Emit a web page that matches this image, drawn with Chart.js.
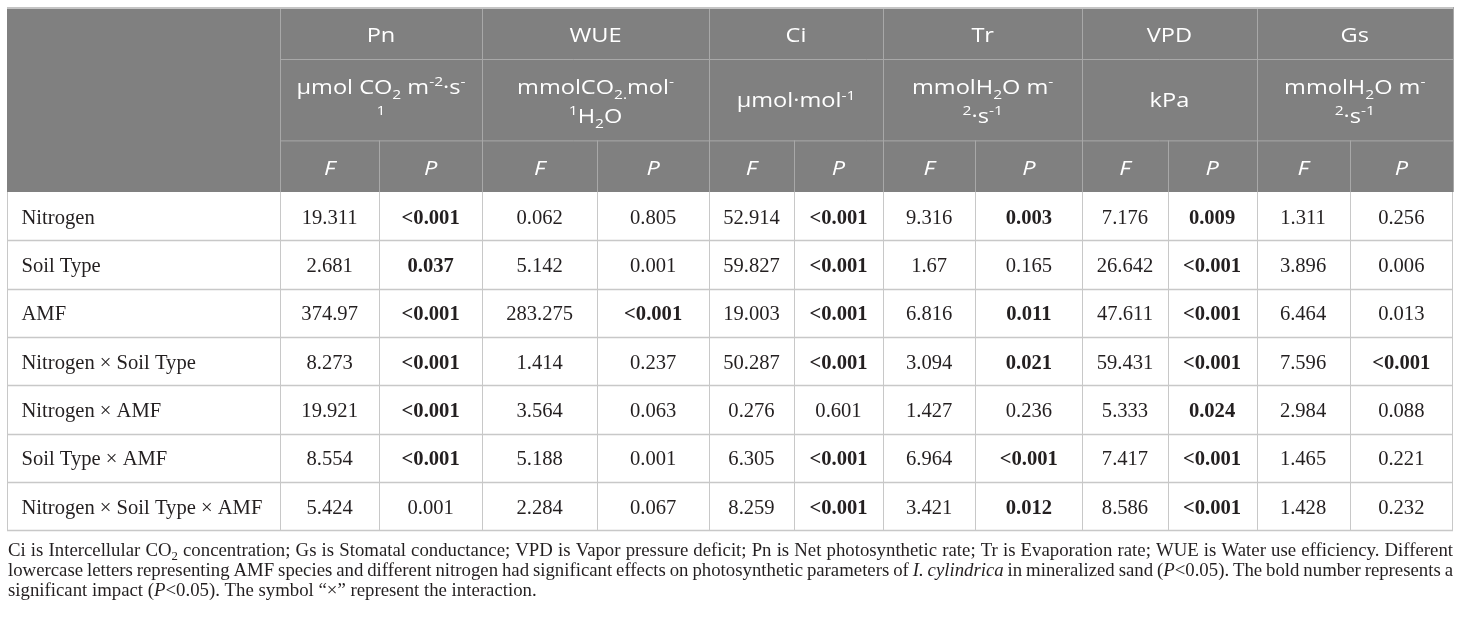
<!DOCTYPE html>
<html>
<head>
<meta charset="utf-8">
<script src="https://cdn.jsdelivr.net/npm/chart.js@4.4.1/dist/chart.umd.min.js"></script>
<style>
  html, body { margin: 0; padding: 0; background: #fff; }
  #wrap { position: relative; width: 1460px; height: 618px; }
</style>
</head>
<body>
<div id="wrap"><canvas id="tbl"></canvas></div>
<script>
// ---- data ----
const rowLabels = ["Nitrogen", "Soil Type", "AMF", "Nitrogen × Soil Type", "Nitrogen × AMF", "Soil Type × AMF", "Nitrogen × Soil Type × AMF"];
const variables = ["Pn", "WUE", "Ci", "Tr", "VPD", "Gs"];
// ^{..} superscript, _{..} subscript; one entry per line
const units = [
  ["μmol CO_{2} m^{-2}·s^{-}", "^{1}"],
  ["mmolCO_{2.}mol^{-}", "^{1}H_{2}O"],
  ["μmol·mol^{-1}"],
  ["mmolH_{2}O m^{-}", "^{2}·s^{-1}"],
  ["kPa"],
  ["mmolH_{2}O m^{-}", "^{2}·s^{-1}"]
];
const statLabels = ["F", "P"];

const pnF  = ["19.311", "2.681", "374.97", "8.273", "19.921", "8.554", "5.424"];
const pnP  = ["<0.001", "0.037", "<0.001", "<0.001", "<0.001", "<0.001", "0.001"];
const pnB  = [1, 1, 1, 1, 1, 1, 0];
const wueF = ["0.062", "5.142", "283.275", "1.414", "3.564", "5.188", "2.284"];
const wueP = ["0.805", "0.001", "<0.001", "0.237", "0.063", "0.001", "0.067"];
const wueB = [0, 0, 1, 0, 0, 0, 0];
const ciF  = ["52.914", "59.827", "19.003", "50.287", "0.276", "6.305", "8.259"];
const ciP  = ["<0.001", "<0.001", "<0.001", "<0.001", "0.601", "<0.001", "<0.001"];
const ciB  = [1, 1, 1, 1, 0, 1, 1];
const trF  = ["9.316", "1.67", "6.816", "3.094", "1.427", "6.964", "3.421"];
const trP  = ["0.003", "0.165", "0.011", "0.021", "0.236", "<0.001", "0.012"];
const trB  = [1, 0, 1, 1, 0, 1, 1];
const vpdF = ["7.176", "26.642", "47.611", "59.431", "5.333", "7.417", "8.586"];
const vpdP = ["0.009", "<0.001", "<0.001", "<0.001", "0.024", "<0.001", "<0.001"];
const vpdB = [1, 1, 1, 1, 1, 1, 1];
const gsF  = ["1.311", "3.896", "6.464", "7.596", "2.984", "1.465", "1.428"];
const gsP  = ["0.256", "0.006", "0.013", "<0.001", "0.088", "0.221", "0.232"];
const gsB  = [0, 0, 0, 1, 0, 0, 0];

// *..* italic, _{..} subscript
const captionLines = [
  "Ci is Intercellular CO_{2} concentration; Gs is Stomatal conductance; VPD is Vapor pressure deficit; Pn is Net photosynthetic rate; Tr is Evaporation rate; WUE is Water use efficiency. Different",
  "lowercase letters representing AMF species and different nitrogen had significant effects on photosynthetic parameters of *I. cylindrica* in mineralized sand (*P*<0.05). The bold number represents a",
  "significant impact (*P*<0.05). The symbol “×” represent the interaction."
];

// ---- layout ----
const colWidths = [273, 99.3, 102.7, 115.3, 111.7, 85, 89, 92.3, 107.1, 85.2, 88.9, 93.1, 103.4];
const rowHeights = [52, 81.4, 51.6, 48.35, 48.35, 48.35, 48.35, 48.35, 48.35, 48.35];
const colEdges = colWidths.reduce((a, w) => (a.push(a[a.length - 1] + w), a), [0]);
const rowEdges = rowHeights.reduce((a, h) => (a.push(a[a.length - 1] + h), a), [0]);
const tableW = colEdges[colEdges.length - 1];
const tableH = rowEdges[rowEdges.length - 1];
const headerRows = 3;

const SANS = '"Open Sans", "DejaVu Sans", sans-serif';
const SERIF = '"Liberation Serif", "DejaVu Serif", serif';
const headBg = "#808080";
const headLine = "#a8a8a8";
const bodyLine = "#c8c8c8";
const ink = "#231f20";
const headSize = 20.5, headStretch = 1.15;
const bodySize = 20.6;
const capSize = 18.8, capLeading = 20;

const seriesF = [pnF, wueF, ciF, trF, vpdF, gsF];
const seriesP = [pnP, wueP, ciP, trP, vpdP, gsP];
const seriesB = [pnB, wueB, ciB, trB, vpdB, gsB];

const cellPoints = [];
variables.forEach((v, vi) => {
  [seriesF[vi], seriesP[vi]].forEach((vals, si) => {
    const c = 1 + vi * 2 + si;
    vals.forEach((t, r) => {
      const rr = headerRows + r;
      cellPoints.push({
        x: (colEdges[c] + colEdges[c + 1]) / 2,
        y: (rowEdges[rr] + rowEdges[rr + 1]) / 2,
        text: t,
        bold: si === 1 && seriesB[vi][r] === 1
      });
    });
  });
});

function parseRich(str) {
  const out = [];
  const re = /([\^_])\{([^}]*)\}|([^\^_]+)/g;
  let m;
  while ((m = re.exec(str))) {
    if (m[3]) out.push({ t: m[3], mode: 0 });
    else out.push({ t: m[2], mode: m[1] === "^" ? 1 : -1 });
  }
  return out;
}

// rich header text, centred on cx, horizontally stretched by sx
function drawRich(ctx, str, cx, baseY, size, family, style, sx) {
  const segs = parseRich(str);
  const small = size * 0.66;
  const font = (s) => `${style} ${s}px ${family}`;
  let w = 0;
  segs.forEach((s) => { ctx.font = font(s.mode ? small : size); s.w = ctx.measureText(s.t).width * sx; w += s.w; });
  let x = cx - w / 2;
  ctx.textAlign = "left";
  ctx.textBaseline = "alphabetic";
  segs.forEach((s) => {
    ctx.font = font(s.mode ? small : size);
    const dy = s.mode === 1 ? -size * 0.36 : s.mode === -1 ? size * 0.24 : 0;
    ctx.save();
    ctx.translate(x, baseY + dy);
    ctx.scale(sx, 1);
    ctx.fillText(s.t, 0, 0);
    ctx.restore();
    x += s.w;
  });
}

// caption: split into words, each word a list of styled pieces
function captionWords(line) {
  const words = [];
  let cur = [], italic = false, i = 0;
  const push = (t, sub) => {
    const last = cur[cur.length - 1];
    if (last && last.italic === italic && last.sub === sub) last.t += t;
    else cur.push({ t, italic, sub });
  };
  while (i < line.length) {
    const ch = line[i];
    if (ch === "*") { italic = !italic; i++; }
    else if (ch === "_" && line[i + 1] === "{") {
      const j = line.indexOf("}", i);
      push(line.slice(i + 2, j), true);
      i = j + 1;
    } else if (ch === " ") { if (cur.length) words.push(cur); cur = []; i++; }
    else { push(ch, false); i++; }
  }
  if (cur.length) words.push(cur);
  return words;
}

function drawCaption(ctx, line, left, right, baseY, size, justify) {
  const small = size * 0.68;
  const font = (p) => `${p.italic ? "italic " : ""}${p.sub ? small : size}px ${SERIF}`;
  const words = captionWords(line);
  let total = 0;
  words.forEach((w) => {
    w.width = 0;
    w.forEach((p) => { ctx.font = font(p); p.w = ctx.measureText(p.t).width; w.width += p.w; });
    total += w.width;
  });
  ctx.font = `${size}px ${SERIF}`;
  const space = ctx.measureText(" ").width;
  const gap = justify && words.length > 1 ? (right - left - total) / (words.length - 1) : space;
  let x = left;
  ctx.textAlign = "left";
  ctx.textBaseline = "alphabetic";
  ctx.fillStyle = ink;
  words.forEach((w) => {
    w.forEach((p) => {
      ctx.font = font(p);
      ctx.fillText(p.t, x, baseY + (p.sub ? size * 0.22 : 0));
      x += p.w;
    });
    x += gap;
  });
}

const tablePlugin = {
  id: "tableGrid",
  beforeDatasetsDraw(chart) {
    const ctx = chart.ctx;
    const xs = chart.scales.x, ys = chart.scales.y;
    const X = (v) => xs.getPixelForValue(v);
    const Y = (v) => ys.getPixelForValue(v);
    const nCols = colWidths.length;
    const hTop = Y(rowEdges[0]), hBot = Y(rowEdges[headerRows]);
    ctx.save();

    // header block
    ctx.fillStyle = headBg;
    ctx.fillRect(X(0), hTop, X(tableW) - X(0), hBot - hTop);

    ctx.lineWidth = 1;
    ctx.strokeStyle = headLine;
    ctx.beginPath();
    [1, 2].forEach((r) => { ctx.moveTo(X(colEdges[1]), Y(rowEdges[r]) + 0.5); ctx.lineTo(X(tableW), Y(rowEdges[r]) + 0.5); });
    for (let g = 0; g <= variables.length; g++) {
      const c = 1 + g * 2;
      const px = Math.round(X(colEdges[c])) + 0.5;
      ctx.moveTo(px, hTop); ctx.lineTo(px, hBot);
    }
    for (let g = 0; g < variables.length; g++) {
      const px = Math.round(X(colEdges[2 + g * 2])) + 0.5;
      ctx.moveTo(px, Y(rowEdges[2])); ctx.lineTo(px, hBot);
    }
    ctx.stroke();
    ctx.strokeStyle = "#c4c4c4";
    ctx.strokeRect(Math.round(X(0)) + 0.5, Math.round(hTop) + 0.5, Math.round(X(tableW) - X(0)) - 1, 1);

    // body grid
    ctx.strokeStyle = bodyLine;
    ctx.beginPath();
    for (let c = 0; c <= nCols; c++) {
      const px = Math.round(X(colEdges[c])) + (c === nCols ? -0.5 : 0.5);
      ctx.moveTo(px, hBot); ctx.lineTo(px, Y(tableH));
    }
    ctx.stroke();
    ctx.lineWidth = 1.5;
    ctx.beginPath();
    for (let r = headerRows + 1; r < rowEdges.length; r++) {
      const py = Math.round(Y(rowEdges[r])) + 0.5;
      ctx.moveTo(X(0), py); ctx.lineTo(X(tableW), py);
    }
    ctx.stroke();

    // header texts
    ctx.fillStyle = "#ffffff";
    const hs = headSize;
    variables.forEach((v, vi) => {
      const c0 = 1 + vi * 2;
      const cx = (X(colEdges[c0]) + X(colEdges[c0 + 2])) / 2;
      const cy0 = (Y(rowEdges[0]) + Y(rowEdges[1])) / 2;
      drawRich(ctx, v, cx, cy0 + hs * 0.45, hs, SANS, "normal", headStretch);
      const cy1 = (Y(rowEdges[1]) + Y(rowEdges[2])) / 2;
      const lines = units[vi];
      if (lines.length === 1) {
        drawRich(ctx, lines[0], cx, cy1 + hs * 0.37, hs, SANS, "normal", headStretch);
      } else {
        drawRich(ctx, lines[0], cx, cy1 - 6, hs, SANS, "normal", headStretch);
        drawRich(ctx, lines[1], cx, cy1 + 23, hs, SANS, "normal", headStretch);
      }
      const cy2 = (Y(rowEdges[2]) + Y(rowEdges[3])) / 2;
      statLabels.forEach((s, si) => {
        const c = c0 + si;
        drawRich(ctx, s, (X(colEdges[c]) + X(colEdges[c + 1])) / 2, cy2 + hs * 0.43, hs, SANS, "italic", headStretch);
      });
    });

    // row labels
    ctx.fillStyle = ink;
    ctx.font = `${bodySize}px ${SERIF}`;
    ctx.textAlign = "left";
    ctx.textBaseline = "alphabetic";
    rowLabels.forEach((lab, r) => {
      const rr = headerRows + r;
      const cy = (Y(rowEdges[rr]) + Y(rowEdges[rr + 1])) / 2;
      ctx.fillText(lab, X(0) + 14.5, cy + 7.5);
    });

    // caption under the table
    const left = X(0) + 1, right = X(tableW);
    const base = Y(tableH) + 25.5;
    captionLines.forEach((ln, i) => {
      drawCaption(ctx, ln, left, right, base + i * capLeading, capSize, i < captionLines.length - 1);
    });
    ctx.restore();
  },
  afterDatasetsDraw(chart) {
    const ctx = chart.ctx;
    const meta = chart.getDatasetMeta(0);
    const ds = chart.data.datasets[0].data;
    ctx.save();
    ctx.fillStyle = ink;
    ctx.textAlign = "center";
    ctx.textBaseline = "alphabetic";
    meta.data.forEach((el, i) => {
      const d = ds[i];
      ctx.font = `${d.bold ? "bold " : ""}${bodySize}px ${SERIF}`;
      ctx.fillText(d.text, el.x, el.y + 7.5);
    });
    ctx.restore();
  }
};

new Chart(document.getElementById("tbl"), {
  type: "scatter",
  data: { datasets: [{ data: cellPoints, pointRadius: 0, pointHoverRadius: 0 }] },
  options: {
    responsive: true,
    maintainAspectRatio: false,
    animation: false,
    events: [],
    layout: { padding: { left: 7, right: 7, top: 7, bottom: 618 - 7 - tableH } },
    plugins: { legend: { display: false }, tooltip: { enabled: false } },
    scales: {
      x: { type: "linear", display: false, min: 0, max: tableW },
      y: { type: "linear", display: false, min: 0, max: tableH, reverse: true }
    }
  },
  plugins: [tablePlugin]
});
</script>
</body>
</html>
